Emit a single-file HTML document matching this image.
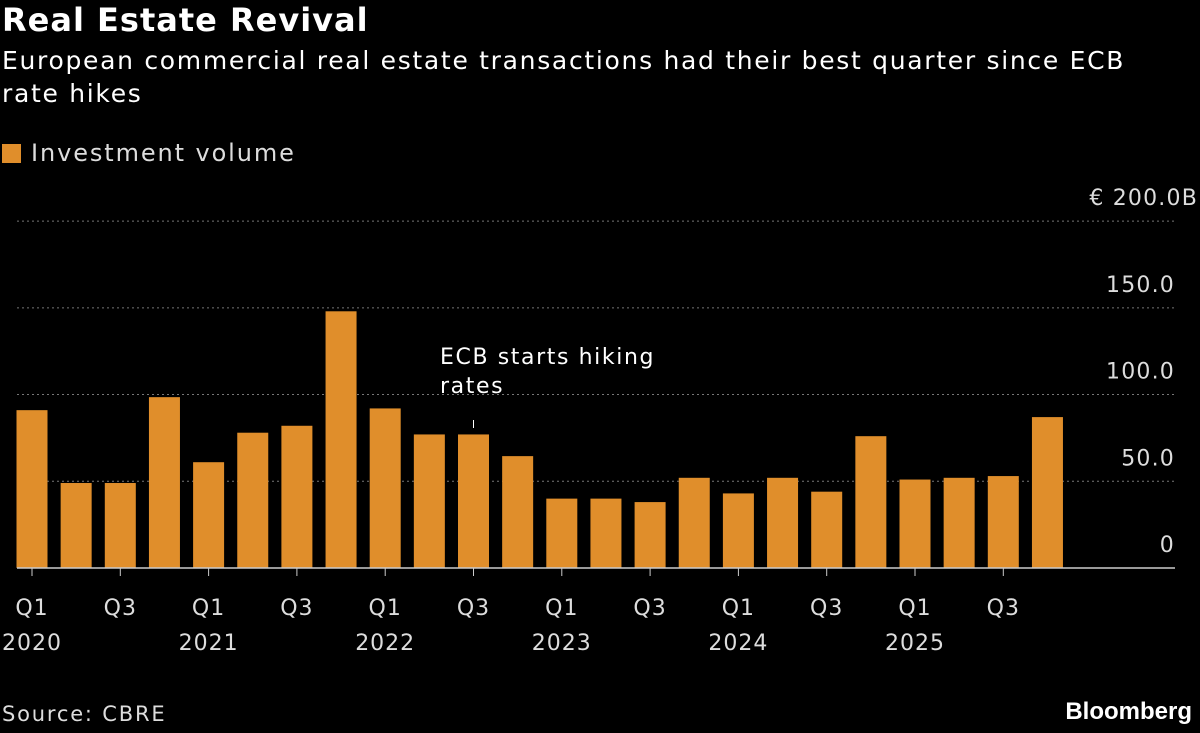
<!DOCTYPE html>
<html><head><meta charset="utf-8"><style>
body{margin:0;background:#000;width:1200px;height:733px;overflow:hidden;font-family:"DejaVu Sans",sans-serif;color:#fff}
.t{position:absolute;left:2px;top:1px;font-size:32px;font-weight:bold;letter-spacing:1px}
.s{position:absolute;left:2px;top:44px;font-size:25px;line-height:33px;width:1160px;letter-spacing:1.7px}
.lg{position:absolute;left:2px;top:139px;font-size:24px;color:#ddd;letter-spacing:1.9px}
.lg span{display:inline-block;width:19px;height:19px;background:#e08e2b;margin-right:10px;vertical-align:-2px}
.src{position:absolute;left:2px;top:702px;font-size:21px;color:#ddd;letter-spacing:1.8px}
.bb{position:absolute;right:8px;top:698px;font-size:24px;font-weight:bold;font-family:"Liberation Sans",sans-serif}
svg{position:absolute;left:0;top:0}
</style></head><body>
<div class="t">Real Estate Revival</div>
<div class="s">European commercial real estate transactions had their best quarter since ECB rate hikes</div>
<div class="lg"><span></span>Investment volume</div>
<div class="src">Source: CBRE</div>
<div class="bb">Bloomberg</div>
<svg id="c" width="1200" height="733"></svg>
<script>
const categories=["Q1 2020","Q2 2020","Q3 2020","Q4 2020","Q1 2021","Q2 2021","Q3 2021","Q4 2021","Q1 2022","Q2 2022","Q3 2022","Q4 2022","Q1 2023","Q2 2023","Q3 2023","Q4 2023","Q1 2024","Q2 2024","Q3 2024","Q4 2024","Q1 2025","Q2 2025","Q3 2025","Q4 2025"];
const values=[91,49,49,98.5,61,78,82,148,92,77,77,64.5,40,40,38,52,43,52,44,76,51,52,53,87];
const yTicks=[0,50,100,150,200];
const yTickLabels=["0","50.0","100.0","150.0","€ 200.0B"];
const xLabels=[["Q1","2020"],["Q3",""],["Q1","2021"],["Q3",""],["Q1","2022"],["Q3",""],["Q1","2023"],["Q3",""],["Q1","2024"],["Q3",""],["Q1","2025"],["Q3",""]];
const svg=document.getElementById('c');const NS="http://www.w3.org/2000/svg";
const FF="DejaVu Sans, sans-serif";
function y(v){return 568-v*1.7345;}
function x(i){return 32+i*44.15;}
function mk(t,a,txt){const e=document.createElementNS(NS,t);for(const k in a)e.setAttribute(k,a[k]);if(txt!==undefined)e.textContent=txt;svg.appendChild(e);return e;}
yTicks.forEach((v,i)=>{
 if(v>0){const g=mk('line',{x1:17,x2:1175,y1:y(v),y2:y(v),stroke:'#777','stroke-dasharray':'2,3'});
 
 }
 const t=mk('text',{x:1175,y:y(v)-16,'text-anchor':'end','font-size':22,fill:'#ddd','font-family':FF,'letter-spacing':1.2},yTickLabels[i]);
 if(i==4)t.setAttribute('x',1198);
 
 
});
values.forEach((v,i)=>{
 const r=mk('rect',{x:x(i)-15.5,y:y(v),width:31,height:568-y(v),fill:'#e08e2b'});
 
 
});
const ax=mk('line',{x1:17,x2:1175,y1:568,y2:568,stroke:'#ccc','stroke-width':1.5});


xLabels.forEach((l,j)=>{
 const i=j*2;
 const tk=mk('line',{x1:x(i),x2:x(i),y1:568,y2:576,stroke:'#ccc'});
 
 
 const t=mk('text',{x:x(i),y:615,'text-anchor':'middle','font-size':22,fill:'#ddd','font-family':FF,'letter-spacing':1},l[0]);
 
 
 if(l[1]){const t2=mk('text',{x:x(i),y:650,'text-anchor':'middle','font-size':22,fill:'#ddd','font-family':FF,'letter-spacing':1},l[1]);
 
 }
});
const an=mk('text',{x:440,y:364,'font-size':22,fill:'#fff','font-family':FF,'letter-spacing':1.6});


an.innerHTML='<tspan x="440">ECB starts hiking</tspan><tspan x="440" dy="29">rates</tspan>';
const al=mk('line',{x1:x(10),x2:x(10),y1:420,y2:428,stroke:'#fff'});


</script>
</body></html>
